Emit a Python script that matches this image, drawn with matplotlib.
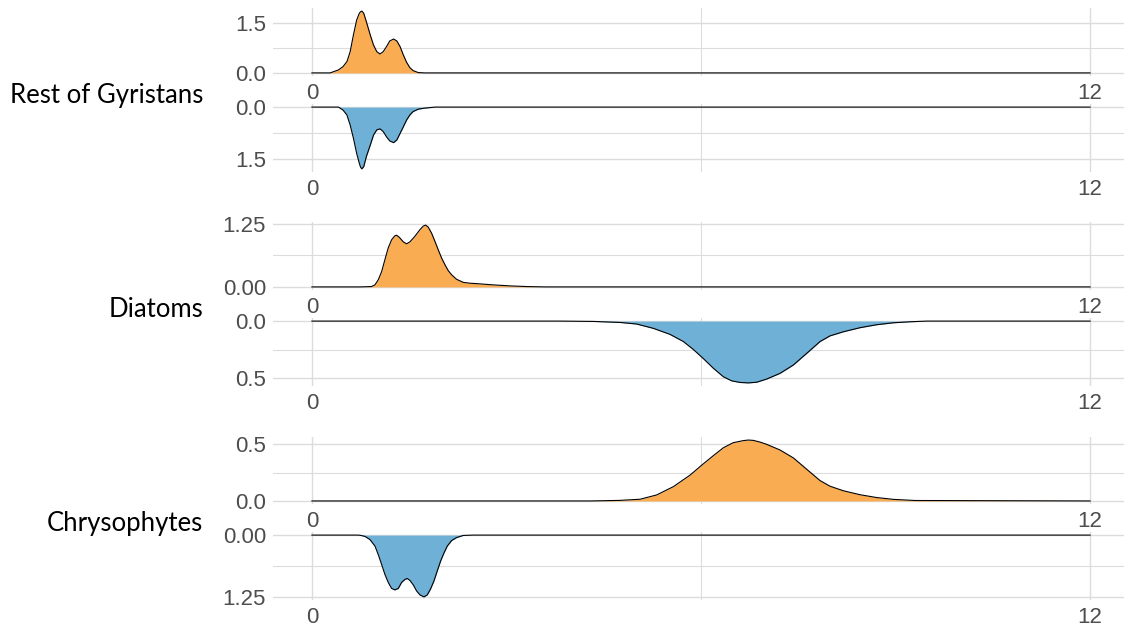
import numpy as np
import matplotlib
matplotlib.use("Agg")
import matplotlib.pyplot as plt
from matplotlib.ticker import FixedLocator

plt.rcParams["font.family"] = ["Liberation Sans", "DejaVu Sans"]

# group names, top to bottom
groups = ["Rest of Gyristans", "Diatoms", "Chrysophytes"]

# density curves (x, density)
rest_orange_x = [0, 0.28, 0.41, 0.48, 0.54, 0.59, 0.64, 0.69, 0.73, 0.75, 0.77, 0.78, 0.80, 0.84,
                 0.90, 0.95, 1.00, 1.05, 1.10, 1.15, 1.20, 1.26, 1.31, 1.36, 1.41, 1.46, 1.51,
                 1.56, 1.64, 1.74, 12]
rest_orange_y = [0, 0, 0.09, 0.19, 0.34, 0.64, 1.14, 1.59, 1.79, 1.84, 1.86, 1.84, 1.79, 1.54,
                 1.14, 0.84, 0.64, 0.57, 0.64, 0.79, 0.96, 1.02, 0.96, 0.79, 0.54, 0.32, 0.16,
                 0.07, 0.01, 0, 0]

rest_blue_x = [0, 0.41, 0.48, 0.54, 0.59, 0.64, 0.69, 0.73, 0.75, 0.77, 0.80, 0.84, 0.90, 0.95,
               1.00, 1.05, 1.10, 1.15, 1.20, 1.26, 1.31, 1.36, 1.41, 1.46, 1.51, 1.56, 1.64,
               1.74, 1.90, 12]
rest_blue_y = [0, 0, 0.087, 0.23, 0.52, 0.90, 1.34, 1.62, 1.74, 1.79, 1.72, 1.43, 1.10, 0.81,
               0.66, 0.63, 0.71, 0.86, 0.98, 1.03, 0.95, 0.76, 0.57, 0.375, 0.23, 0.13, 0.06,
               0.03, 0, 0]

diatoms_orange_x = [0, 0.74, 0.92, 0.972, 1.023, 1.075, 1.126, 1.177, 1.229, 1.280, 1.306, 1.347,
                    1.409, 1.460, 1.512, 1.589, 1.666, 1.717, 1.753, 1.794, 1.846, 1.897, 1.949,
                    2.000, 2.051, 2.103, 2.154, 2.231, 2.334, 2.437, 2.591, 2.797, 3.054, 3.311,
                    3.6, 12]
diatoms_orange_y = [0, 0, 0.007, 0.04, 0.14, 0.30, 0.54, 0.77, 0.93, 1.01, 1.02, 0.98,
                    0.89, 0.85, 0.89, 1.00, 1.13, 1.20, 1.22, 1.18, 1.06, 0.90, 0.73,
                    0.57, 0.44, 0.32, 0.24, 0.15, 0.09, 0.073, 0.06, 0.04, 0.02, 0.007,
                    0, 0]

diatoms_blue_x = [0, 3.825, 4.34, 4.751, 5.008, 5.265, 5.522, 5.728, 5.882, 6.036, 6.190, 6.345,
                  6.473, 6.602, 6.730, 6.859, 7.013, 7.219, 7.425, 7.630, 7.836, 7.990, 8.196,
                  8.453, 8.710, 8.967, 9.224, 9.481, 12]
diatoms_blue_y = [0, 0, 0.003, 0.012, 0.026, 0.064, 0.117, 0.18, 0.25, 0.33, 0.415, 0.49,
                  0.526, 0.54, 0.544, 0.538, 0.51, 0.46, 0.386, 0.284, 0.18, 0.13, 0.094,
                  0.058, 0.032, 0.015, 0.006, 0, 0]

chryso_orange_x = [0, 4.3, 4.75, 5.059, 5.316, 5.573, 5.831, 6.011, 6.190, 6.345, 6.499, 6.653,
                   6.730, 6.807, 6.910, 7.013, 7.219, 7.425, 7.630, 7.836, 7.990, 8.196, 8.453,
                   8.710, 8.967, 9.3, 12]
chryso_orange_y = [0, 0, 0.005, 0.015, 0.053, 0.126, 0.228, 0.316, 0.40, 0.470, 0.515, 0.533,
                   0.538, 0.535, 0.52, 0.50, 0.45, 0.38, 0.28, 0.18, 0.13, 0.09, 0.055,
                   0.03, 0.014, 0.004, 0]

chryso_blue_x = [0, 0.70, 0.740, 0.818, 0.895, 0.972, 1.023, 1.075, 1.126, 1.177, 1.229, 1.280,
                 1.332, 1.383, 1.434, 1.470, 1.512, 1.563, 1.614, 1.666, 1.728, 1.779, 1.830,
                 1.882, 1.933, 1.985, 2.036, 2.088, 2.154, 2.231, 2.334, 2.489, 12]
chryso_blue_y = [0, 0, 0.003, 0.026, 0.09, 0.22, 0.39, 0.59, 0.79, 0.95, 1.07, 1.10,
                 1.07, 0.95, 0.89, 0.87, 0.91, 1.00, 1.12, 1.20, 1.24, 1.20, 1.08,
                 0.92, 0.72, 0.52, 0.36, 0.22, 0.11, 0.05, 0.007, 0, 0]

# y breaks and their labels per panel
panel_breaks = [1.5, 1.5, 1.25, 0.5, 0.5, 1.25]
panel_labels = [["0.0", "1.5"], ["0.0", "1.5"], ["0.00", "1.25"],
                ["0.0", "0.5"], ["0.0", "0.5"], ["0.00", "1.25"]]
x_breaks = [0, 12]
x_labels = ["0", "12"]

ORANGE = "#FAAC52"
BLUE = "#6FB1D6"
GRID = "#DCDCDC"
TICK_COLOR = "#4D4D4D"

W, H = 1124, 628
fig = plt.figure(figsize=(W / 100, H / 100), dpi=100)

curves = [
    (rest_orange_x, rest_orange_y, ORANGE, False),
    (rest_blue_x, rest_blue_y, BLUE, True),
    (diatoms_orange_x, diatoms_orange_y, ORANGE, False),
    (diatoms_blue_x, diatoms_blue_y, BLUE, True),
    (chryso_orange_x, chryso_orange_y, ORANGE, False),
    (chryso_blue_x, chryso_blue_y, BLUE, True),
]

# panel top/bottom in pixels
panel_px = [(8, 76), (104, 172), (222, 290), (318, 386), (437, 504), (532, 600)]
left_px, right_px = 273, 1129

for i, (xs, ys, color, flip) in enumerate(curves):
    top, bot = panel_px[i]
    ax = fig.add_axes([left_px / W, 1 - bot / H, (right_px - left_px) / W, (bot - top) / H])
    xs = np.array(xs)
    ys = np.array(ys)
    ax.fill_between(xs, 0, ys, color=color, lw=0, zorder=2)
    ax.plot(xs, ys, color="black", lw=0.8, zorder=3)

    ymax = ys.max()
    ax.set_xlim(-0.6, 12.6)
    if flip:
        ax.set_ylim(1.05 * ymax, -0.05 * ymax)
    else:
        ax.set_ylim(-0.05 * ymax, 1.05 * ymax)

    b = panel_breaks[i]
    ax.set_yticks([0, b])
    ax.set_yticklabels(panel_labels[i])
    ax.yaxis.set_minor_locator(FixedLocator([b / 2]))
    ax.set_xticks(x_breaks)
    ax.set_xticklabels(x_labels)
    ax.xaxis.set_minor_locator(FixedLocator([6]))

    ax.grid(True, which="major", color=GRID, lw=1.0)
    ax.grid(True, which="minor", color=GRID, lw=0.8)
    ax.set_axisbelow(True)
    for s in ax.spines.values():
        s.set_visible(False)
    ax.tick_params(which="both", length=0)
    ax.tick_params(axis="y", pad=5, labelsize=16, labelcolor=TICK_COLOR)
    ax.tick_params(axis="x", pad=5, labelsize=16, labelcolor=TICK_COLOR)

# group labels between each pair of panels
label_baselines = [103, 317, 531]
for name, yb in zip(groups, label_baselines):
    fig.text(203 / W, 1 - yb / H, name, ha="right", va="baseline",
             fontsize=18.5, family="Lato", color="black")

fig.savefig("out.png", dpi=100)
